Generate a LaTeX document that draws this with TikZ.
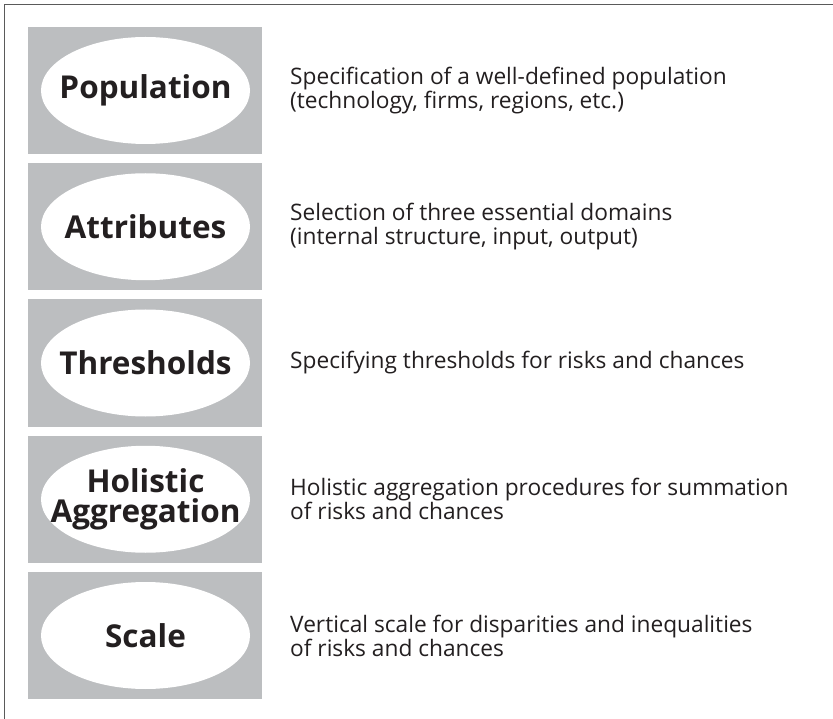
\documentclass[tikz,border=0pt]{standalone}
\usepackage{fontspec}
\setmainfont{Open Sans}
\usetikzlibrary{shapes.geometric}
\definecolor{inkdark}{RGB}{35,31,32}
\definecolor{panelgray}{RGB}{188,190,192}
\definecolor{framegray}{RGB}{90,90,90}
\begin{document}
\begin{tikzpicture}[x=1pt,y=-1pt,
  panel/.style={fill=panelgray,draw=none},
  stageoval/.style={ellipse,fill=white,draw=none,minimum width=209pt,minimum height=107pt,
    inner sep=0pt},
  stagelabel/.style={inner sep=0pt,align=center,text=inkdark,
    font=\fontsize{31.5}{30}\selectfont\bfseries},
  desc/.style={anchor=west,inner sep=0pt,align=left,text=inkdark,
    font=\fontsize{22.7}{24}\selectfont}]
\useasboundingbox (0,0) rectangle (833,719);
\fill[white] (0,0) rectangle (833,719);
% outer frame (open at right and bottom)
\draw[framegray,line width=1.4pt] (4.5,719) -- (4.5,4.5) -- (833,4.5);
% five stages: grey panel, white ellipse with label, description
\foreach \i/\lab/\txt in {
  1/Population/{Specification of a well-defined population\\(technology, firms, regions, etc.)},
  2/Attributes/{Selection of three essential domains\\(internal structure, input, output)},
  3/Thresholds/{Specifying thresholds for risks and chances},
  4/{Holistic\\Aggregation}/{Holistic aggregation procedures for summation\\of risks and chances},
  5/Scale/{Vertical scale for disparities and inequalities\\of risks and chances}}{
  \pgfmathsetmacro{\ytop}{27+136.25*(\i-1)}
  \pgfmathsetmacro{\ymid}{\ytop+63.5}
  \fill[panel] (28,\ytop) rectangle (262,\ytop+127);
  \node[stageoval] (oval\i) at (145.5,\ymid) {};
  \node[stagelabel] (stage\i) at (oval\i.center) {\lab};
  \node[desc] (desc\i) at (290,\ymid) {\txt};
}
\end{tikzpicture}
\end{document}
